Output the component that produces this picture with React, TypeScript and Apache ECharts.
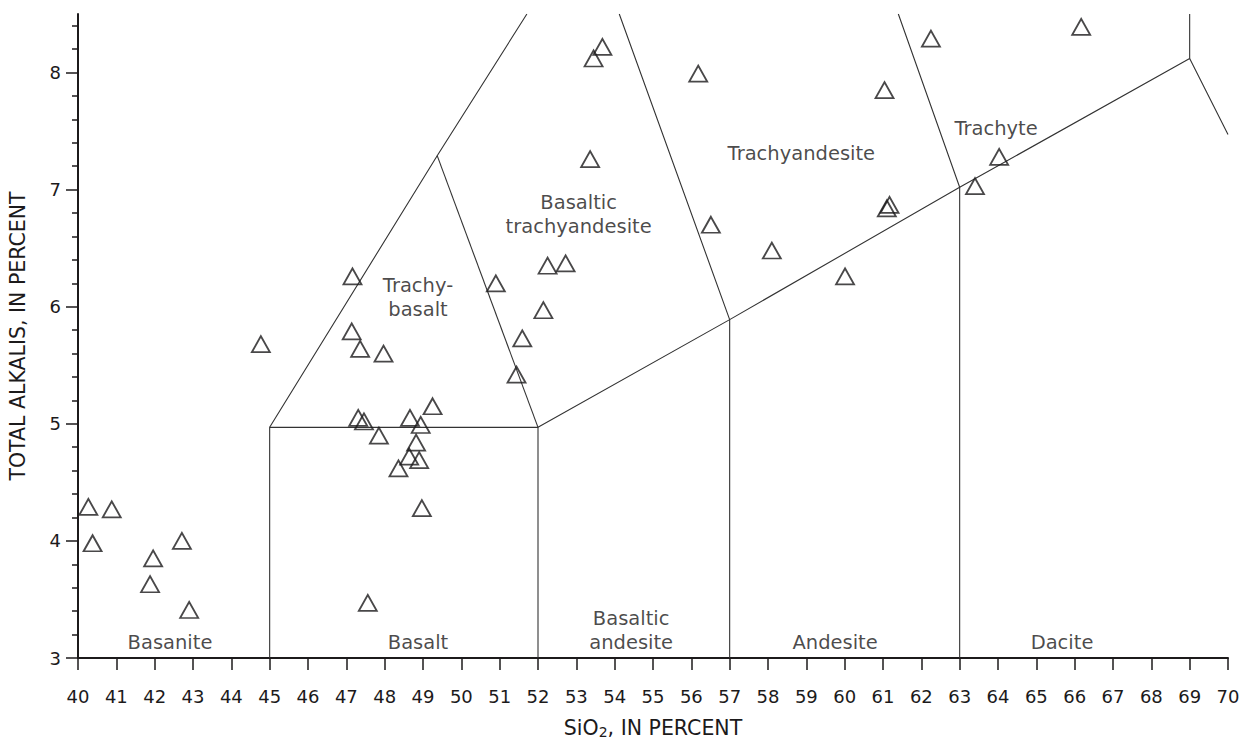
import React, { useEffect, useRef } from "react";
import * as echarts from "echarts";

// SiO2 (wt %) vs total alkalis (wt %) for each sample
const samples: [number, number][] = [
  [40.27, 4.29], [40.88, 4.27], [40.38, 3.98], [41.96, 3.85], [41.88, 3.63], [42.71, 4.0], [42.9, 3.41],
  [44.77, 5.68],
  [47.16, 6.26], [47.14, 5.79], [47.36, 5.64], [47.97, 5.6],
  [47.31, 5.05], [47.46, 5.02], [47.85, 4.9], [48.66, 5.05], [48.94, 4.99], [49.25, 5.15],
  [48.82, 4.84], [48.64, 4.72], [48.9, 4.69], [48.36, 4.62], [48.97, 4.28], [47.56, 3.47],
  [50.9, 6.2], [51.44, 5.42], [51.59, 5.73], [52.14, 5.97], [52.25, 6.35], [52.72, 6.37],
  [53.36, 7.26], [53.45, 8.12], [53.68, 8.22],
  [56.18, 7.99], [56.51, 6.7], [58.1, 6.48], [60.01, 6.26], [61.04, 7.85],
  [61.1, 6.84], [61.17, 6.87], [62.25, 8.29],
  [63.4, 7.03], [64.03, 7.28], [66.17, 8.39],
];

// TAS field boundaries (SiO2, alkalis)
const boundaryBasaltBox: [number, number][] = [[45, 3], [45, 4.97], [52, 4.97], [52, 3]];
const boundaryTrachybasaltLeft: [number, number][] = [[45, 4.97], [49.37, 7.29], [51.71, 8.5]];
const boundaryTrachybasaltRight: [number, number][] = [[49.37, 7.29], [52, 4.97]];
const boundaryAlkaline: [number, number][] = [[52, 4.97], [57, 5.89], [63, 7.02], [69, 8.12], [70, 7.47]];
const boundary57: [number, number][] = [[57, 3], [57, 5.89], [54.12, 8.5]];
const boundary63: [number, number][] = [[63, 3], [63, 7.02], [61.4, 8.5]];
const boundary69: [number, number][] = [[69, 8.12], [69, 8.5]];
const boundaries = [
  boundaryBasaltBox,
  boundaryTrachybasaltLeft,
  boundaryTrachybasaltRight,
  boundaryAlkaline,
  boundary57,
  boundary63,
  boundary69,
];

// Field names and their anchor (SiO2, alkalis)
const fieldNames = [
  "Basanite", "Basalt", "Basaltic\nandesite", "Andesite", "Dacite",
  "Trachy-\nbasalt", "Basaltic\ntrachyandesite", "Trachyandesite", "Trachyte",
];
const fieldSiO2 = [42.4, 48.87, 54.43, 59.75, 65.67, 48.87, 53.06, 58.87, 63.95];
const fieldAlkalis = [3.13, 3.13, 3.235, 3.13, 3.13, 6.08, 6.79, 7.31, 7.525];

// Axis ticks
const yMajorTicks = [3, 4, 5, 6, 7, 8];
const yMinorTicks = [3.2, 3.4, 3.6, 3.8, 4.2, 4.4, 4.6, 4.8, 5.2, 5.4, 5.6, 5.8, 6.2, 6.4, 6.6, 6.8, 7.2, 7.4, 7.6, 7.8, 8.2, 8.4];

const INK = "#1c1a1b";
const FONT = "DejaVu Sans";

export default function App() {
  const ref = useRef<HTMLDivElement>(null);

  useEffect(() => {
    if (!ref.current) return;
    const chart = echarts.init(ref.current, undefined, { renderer: "svg" });

    const lineSeries = boundaries.map((seg) => ({
      type: "line",
      data: seg,
      symbol: "none",
      silent: true,
      z: 1,
      lineStyle: { color: "#333333", width: 1.1 },
      animation: false,
    }));

    chart.setOption({
      animation: false,
      backgroundColor: "#ffffff",
      grid: { left: 78, right: 13, top: 14, bottom: 84, containLabel: false, outerBoundsMode: "none" },
      xAxis: {
        type: "value",
        min: 40,
        max: 70,
        interval: 1,
        name: "{a|SiO}{s|2}{a|, IN PERCENT}",
        nameLocation: "middle",
        nameGap: 59,
        nameTextStyle: {
          rich: {
            a: { fontFamily: FONT, fontSize: 20.5, color: INK, lineHeight: 22 },
            s: { fontFamily: FONT, fontSize: 14, color: INK, verticalAlign: "bottom", lineHeight: 12 },
          },
        },
        axisLine: { show: true, onZero: false, lineStyle: { color: INK, width: 2 } },
        axisTick: { show: true, inside: false, length: 12, lineStyle: { color: INK, width: 1.5 } },
        axisLabel: {
          interval: 0,
          margin: 29,
          fontFamily: FONT,
          fontSize: 18,
          color: INK,
          showMinLabel: true,
          showMaxLabel: true,
        },
        splitLine: { show: false },
      },
      yAxis: [
        {
          type: "value",
          min: 3,
          max: 8.5,
          interval: 1,
          name: "TOTAL ALKALIS, IN PERCENT",
          nameLocation: "middle",
          nameGap: 50,
          nameTextStyle: { fontFamily: FONT, fontSize: 20.5, color: INK },
          axisLine: { show: true, onZero: false, lineStyle: { color: INK, width: 2 } },
          axisTick: { show: true, inside: false, length: 12, customValues: yMajorTicks, lineStyle: { color: INK, width: 1.5 } },
          axisLabel: { customValues: yMajorTicks, margin: 17, fontFamily: FONT, fontSize: 18, color: INK },
          splitLine: { show: false },
        },
        {
          type: "value",
          min: 3,
          max: 8.5,
          position: "left",
          axisLine: { show: false },
          axisTick: { show: true, inside: false, length: 6, customValues: yMinorTicks, lineStyle: { color: INK, width: 1.5 } },
          axisLabel: { show: false },
          splitLine: { show: false },
        },
      ],
      series: [
        ...lineSeries,
        {
          type: "scatter",
          data: fieldNames.map((n, i) => ({ name: n, value: [fieldSiO2[i], fieldAlkalis[i]] })),
          symbolSize: 1,
          itemStyle: { color: "rgba(0,0,0,0)" },
          silent: true,
          z: 3,
          label: {
            show: true,
            position: "inside",
            formatter: (p: any) => p.name,
            fontFamily: FONT,
            fontSize: 19.5,
            lineHeight: 24,
            color: INK,
            align: "center",
          },
        },
        {
          type: "scatter",
          data: samples,
          symbol: "triangle",
          symbolSize: [18, 16],
          silent: true,
          z: 4,
          itemStyle: { color: "rgba(0,0,0,0)", borderColor: INK, borderWidth: 1.8 },
        },
      ],
    });

    return () => chart.dispose();
  }, []);

  return (
    <div
      ref={ref}
      style={{ position: "fixed", left: 0, top: 0, width: 1241, height: 742, background: "#fff" }}
    />
  );
}
